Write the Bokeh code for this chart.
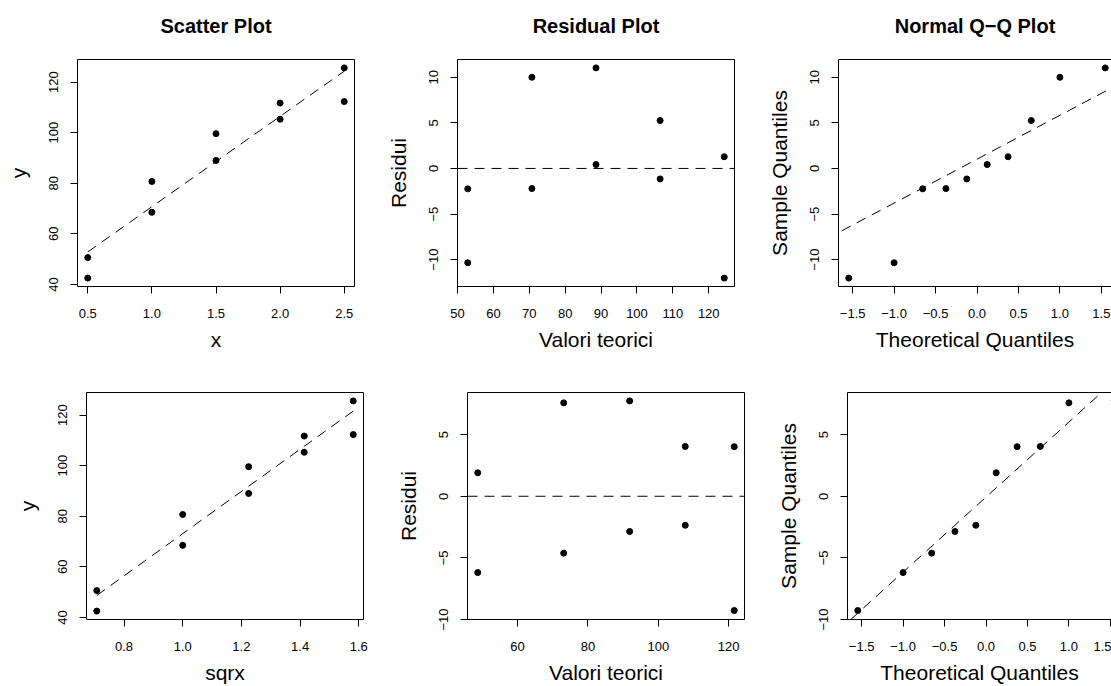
import numpy as np
from statistics import NormalDist
from bokeh.plotting import figure
from bokeh.layouts import column, row
from bokeh.models import (FixedTicker, CustomJSTickFormatter, Span, Slope,
                          LinearAxis, Range1d)
from bokeh.embed import file_html
from bokeh.resources import INLINE

# ---------------- data ----------------
x = [0.5, 0.5, 1.0, 1.0, 1.5, 1.5, 2.0, 2.0, 2.5, 2.5]
y = [50.6, 42.5, 80.7, 68.5, 99.6, 89.0, 111.7, 105.3, 125.6, 112.3]
qq_theoretical = [-1.547, -1.000, -0.655, -0.375, -0.123, 0.123, 0.375, 0.655, 1.000, 1.547]

titles = ["Scatter Plot", "Residual Plot", "Normal Q\u2212Q Plot"]
xlabels_top = ["x", "Valori teorici", "Theoretical Quantiles"]
xlabels_bottom = ["sqrx", "Valori teorici", "Theoretical Quantiles"]
ylabels = ["y", "Residui", "Sample Quantiles"]

ticks_y = [40, 60, 80, 100, 120]
ticks_x1 = [0.5, 1.0, 1.5, 2.0, 2.5]
ticks_x4 = [0.8, 1.0, 1.2, 1.4, 1.6]
ticks_fit_top = [50, 60, 70, 80, 90, 100, 110, 120]
ticks_fit_bottom = [60, 80, 100, 120]
ticks_res_top = [-10, -5, 0, 5, 10]
ticks_res_bottom = [-10, -5, 0, 5]
ticks_qq = [-1.5, -1.0, -0.5, 0.0, 0.5, 1.0, 1.5]

# ---------------- derived quantities ----------------
xa = np.array(x)
ya = np.array(y)
sqrx = np.sqrt(xa)


def fit(xv, yv):
    b, a = np.polyfit(xv, yv, 1)
    fitted = a + b * xv
    return a, b, fitted, yv - fitted


def qqline(res):
    q1, q3 = np.percentile(res, [25, 75])
    z = NormalDist().inv_cdf(0.75)
    slope = (q3 - q1) / (2 * z)
    inter = q1 + slope * z
    return inter, slope


def rrange(vals):
    lo, hi = float(np.min(vals)), float(np.max(vals))
    d = (hi - lo) * 0.04
    return lo - d, hi + d


def near_ticks(r, ticks, tol=0.08):
    lo, hi = r
    for t in ticks:
        if lo - tol <= t < lo:
            lo = t - 0.005
        if hi < t <= hi + tol:
            hi = t + 0.005
    return lo, hi


FONT = "Liberation Sans"
DASH = "10 7"
FULL_W = 277
FRAME_H = 227


def fmt(dec):
    return CustomJSTickFormatter(args=dict(dec=dec),
        code="return tick.toFixed(dec).replace('-', '\u2212');")


def style_axis(ax, ticks, dec, label, show_line, tick_standoff, label_standoff):
    ax.ticker = FixedTicker(ticks=ticks)
    ax.formatter = fmt(dec)
    ax.axis_label = label
    ax.axis_label_text_font = FONT
    ax.axis_label_text_font_size = "21px"
    ax.axis_label_text_font_style = "normal"
    ax.axis_label_text_color = "black"
    ax.axis_label_standoff = label_standoff
    ax.major_label_text_font = FONT
    ax.major_label_text_font_size = "13px"
    ax.major_label_text_color = "black"
    ax.major_label_standoff = tick_standoff
    ax.major_tick_in = 0
    ax.major_tick_out = 7
    ax.major_tick_line_color = "black"
    ax.minor_tick_line_color = None
    ax.axis_line_color = "black" if show_line else None


def make_panel(xr, yr, fw, left, right, top, bottom, xticks, xdec, yticks, ydec,
               xlabel, ylabel, title=None):
    clipped = fw < FULL_W
    x0, x1 = xr
    if clipped:
        x1 = x0 + (x1 - x0) * fw / FULL_W
    y0, y1 = near_ticks(yr, yticks)
    p = figure(frame_width=fw, frame_height=FRAME_H,
               x_range=Range1d(x0, x1), y_range=Range1d(y0, y1),
               min_border_left=left, min_border_right=right,
               min_border_top=top, min_border_bottom=bottom,
               output_backend="svg", toolbar_location=None,
               background_fill_color="white", border_fill_color="white")
    p.grid.visible = False
    p.outline_line_color = None if clipped else "black"
    p.outline_line_width = 1
    style_axis(p.xaxis[0], xticks, xdec, xlabel, clipped, 15, 7)
    style_axis(p.yaxis[0], yticks, ydec, ylabel, clipped, 12, 17)
    p.yaxis[0].major_label_orientation = "vertical"
    if clipped or title:
        # top edge of the box (and the panel's title, as this axis's label)
        top_ax = LinearAxis(ticker=FixedTicker(ticks=[]),
                            axis_line_color="black" if clipped else None,
                            major_tick_out=0, major_tick_in=0, minor_tick_out=0,
                            minor_tick_in=0, major_label_standoff=0,
                            major_label_text_font_size="0px")
        if title:
            top_ax.axis_label = title
            top_ax.axis_label_text_font = FONT
            top_ax.axis_label_text_font_size = "20px"
            top_ax.axis_label_text_font_style = "bold"
            top_ax.axis_label_text_color = "black"
            top_ax.axis_label_standoff = 23
        p.add_layout(top_ax, "above")
    return p


def dots(p, xs, ys):
    p.scatter(list(xs), list(ys), size=6, color="black", marker="circle")


TOP_T, TOP_B = 59, 67
BOT_T, BOT_B = 39, 67

# ---------------- top row: y ~ x ----------------
a1, b1, fit1, res1 = fit(xa, ya)
order = np.argsort(xa, kind="stable")

p1 = make_panel(rrange(xa), rrange(ya), 277, 77, 26, TOP_T, TOP_B,
                ticks_x1, 1, ticks_y, 0, xlabels_top[0], ylabels[0], titles[0])
dots(p1, xa, ya)
p1.line(list(xa[order]), list(fit1[order]), line_dash=DASH, line_color="black", line_width=1)

p2 = make_panel(rrange(fit1), rrange(res1), 277, 77, 26, TOP_T, TOP_B,
                ticks_fit_top, 0, ticks_res_top, 0, xlabels_top[1], ylabels[1], titles[1])
dots(p2, fit1, res1)
p2.add_layout(Span(location=0, dimension="width", line_dash=DASH, line_color="black", line_width=1))

qq_x = np.array(qq_theoretical)
s1 = np.sort(res1)
p3 = make_panel(rrange(qq_x), rrange(s1), 273, 78, 0, TOP_T, TOP_B,
                ticks_qq, 1, ticks_res_top, 0, xlabels_top[2], ylabels[2], titles[2])
dots(p3, qq_x, s1)
i3, g3 = qqline(res1)
p3.add_layout(Slope(gradient=g3, y_intercept=i3, line_dash=DASH, line_color="black", line_width=1))

# ---------------- bottom row: y ~ sqrt(x) ----------------
a2, b2, fit2, res2 = fit(sqrx, ya)

p4 = make_panel(rrange(sqrx), rrange(ya), 277, 86, 18, BOT_T, BOT_B,
                ticks_x4, 1, ticks_y, 0, xlabels_bottom[0], ylabels[0])
dots(p4, sqrx, ya)
p4.line(list(sqrx[order]), list(fit2[order]), line_dash=DASH, line_color="black", line_width=1)

p5 = make_panel(rrange(fit2), rrange(res2), 277, 86, 17, BOT_T, BOT_B,
                ticks_fit_bottom, 0, ticks_res_bottom, 0, xlabels_bottom[1], ylabels[1])
dots(p5, fit2, res2)
p5.add_layout(Span(location=0, dimension="width", line_dash=DASH, line_color="black", line_width=1))

s2 = np.sort(res2)
p6 = make_panel(rrange(qq_x), rrange(s2), 264, 86, 0, BOT_T, BOT_B,
                ticks_qq, 1, ticks_res_bottom, 0, xlabels_bottom[2], ylabels[2])
dots(p6, qq_x, s2)
i6, g6 = qqline(res2)
p6.add_layout(Slope(gradient=g6, y_intercept=i6, line_dash=DASH, line_color="black", line_width=1))

layout = column(row(p1, p2, p3, spacing=0), row(p4, p5, p6, spacing=0), spacing=0)

open("out.html", "w").write(file_html(layout, INLINE))
